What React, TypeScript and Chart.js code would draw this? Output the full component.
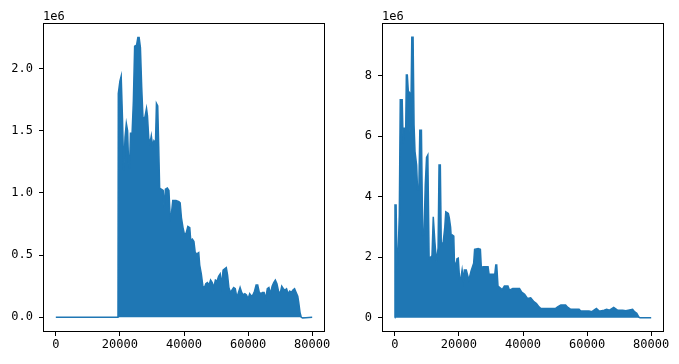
import React, { useEffect, useRef } from "react";
import { Chart, registerables } from "chart.js";

Chart.register(...registerables);

const X_TICKS = [0, 20000, 40000, 60000, 80000];
const X_TICK_LABELS = ["0", "20000", "40000", "60000", "80000"];
const LEFT_Y_TICKS = [0, 0.5, 1.0, 1.5, 2.0];
const LEFT_Y_LABELS = ["0.0", "0.5", "1.0", "1.5", "2.0"];
const RIGHT_Y_TICKS = [0, 2, 4, 6, 8];
const RIGHT_Y_LABELS = ["0", "2", "4", "6", "8"];
const OFFSET_LABEL = "1e6";

// [x, value in units of 1e6] — upper envelope of the left signal
const LEFT_SIGNAL: [number, number][] = [
  [0, 0], [19400, 0], [19500, 1.8], [20000, 1.9], [20400, 1.94], [20800, 1.6],
  [21200, 1.18], [21600, 1.45], [22000, 1.56], [22400, 1.5], [22700, 1.25], [23000, 1.2],
  [23300, 1.48], [23800, 1.48], [24200, 1.74], [24600, 2.18], [25200, 2.19], [25600, 2.25],
  [26000, 2.25], [26400, 2.17], [26800, 1.85], [27200, 1.6], [27800, 1.61], [28300, 1.68],
  [28600, 1.62], [29000, 1.44], [29400, 1.4], [29800, 1.46], [30200, 1.38], [30600, 1.42],
  [31100, 1.4], [31400, 1.72], [31800, 1.7], [32100, 1.38], [32400, 1.04], [33000, 1.03],
  [33500, 1.02], [33800, 0.88], [34200, 1.03], [34800, 1.04], [35300, 1.02], [35700, 0.8],
  [36100, 0.84], [36500, 0.94], [37500, 0.94], [38400, 0.93], [38800, 0.92], [39200, 0.8],
  [39700, 0.72], [40200, 0.66], [40700, 0.68], [41200, 0.73], [41800, 0.72], [42100, 0.62],
  [42600, 0.63], [43100, 0.61], [43500, 0.52], [44000, 0.51], [44600, 0.52], [44900, 0.42],
  [45400, 0.35], [45900, 0.25], [46400, 0.24], [46800, 0.27], [47300, 0.28], [47800, 0.26],
  [48300, 0.3], [48800, 0.28], [49300, 0.24], [49800, 0.3], [50300, 0.29], [50800, 0.33],
  [51300, 0.35], [51700, 0.26], [52200, 0.38], [52700, 0.39], [53200, 0.4], [53600, 0.34],
  [54000, 0.24], [54500, 0.2], [55000, 0.22], [55500, 0.24], [56000, 0.23], [56500, 0.16],
  [57000, 0.2], [57500, 0.24], [58000, 0.2], [58500, 0.18], [59000, 0.19], [59500, 0.18],
  [60000, 0.15], [60500, 0.19], [61000, 0.17], [61500, 0.18], [62000, 0.21], [62500, 0.26],
  [63000, 0.26], [63500, 0.2], [64000, 0.19], [64500, 0.2], [65000, 0.2], [65500, 0.15],
  [66000, 0.23], [66500, 0.24], [67000, 0.19], [67500, 0.25], [68000, 0.28], [68500, 0.3],
  [69000, 0.27], [69500, 0.21], [70000, 0.19], [70500, 0.25], [71000, 0.23], [71500, 0.22],
  [72000, 0.23], [72500, 0.19], [73000, 0.21], [73500, 0.2], [74000, 0.22], [74500, 0.23],
  [75000, 0.2], [75500, 0.17], [75800, 0.12], [76200, 0.04], [76600, 0], [77000, -0.005],
  [80000, 0],
];

// [x, value in units of 1e6] — upper envelope of the right signal
const RIGHT_SIGNAL: [number, number][] = [
  [0, 0], [50, 3.73], [400, 3.73], [700, 1.6], [1100, 2.35], [1400, 3.4],
  [1700, 7.2], [2300, 7.2], [2600, 5.77], [2900, 6.26], [3400, 6.26], [3600, 8.02],
  [3900, 8.02], [4200, 7.5], [4500, 7.45], [4700, 6.1], [5000, 6.7], [5300, 9.27],
  [5700, 9.27], [6000, 6.37], [6300, 5.49], [6800, 5.05], [7100, 4.22], [7500, 4.22],
  [7800, 6.2], [8300, 6.2], [8700, 2.73], [9100, 2.75], [9500, 4.39], [9900, 5.3],
  [10300, 5.38], [10700, 1.97], [11200, 2.0], [11600, 2.05], [12000, 3.34], [12500, 2.51],
  [13000, 1.85], [13500, 2.3], [13800, 5.05], [14200, 5.05], [14500, 2.4], [15100, 2.5],
  [15600, 3.0], [15900, 3.5], [16700, 3.45], [17000, 3.3], [17400, 3.0], [17700, 2.5],
  [18000, 2.73], [18400, 2.7], [18600, 1.85], [19000, 1.7], [19400, 1.95], [19800, 1.97],
  [20200, 1.3], [20600, 1.3], [21000, 1.58], [21400, 1.25], [21700, 1.58], [22300, 1.58],
  [23100, 1.25], [23800, 1.55], [24600, 1.8], [24900, 2.26], [26000, 2.29], [26700, 2.26],
  [27000, 1.65], [27500, 1.69], [29100, 1.69], [29400, 1.44], [31200, 1.44], [31500, 1.74],
  [31800, 1.74], [32200, 1.05], [33500, 0.93], [34200, 1.05], [35300, 1.05], [35800, 0.91],
  [36800, 0.97], [38900, 0.97], [39500, 0.86], [40500, 0.78], [41400, 0.64], [42400, 0.66],
  [43400, 0.53], [44200, 0.47], [45000, 0.36], [45500, 0.31], [50200, 0.31], [50800, 0.36],
  [51800, 0.42], [53300, 0.42], [53900, 0.35], [54900, 0.28], [56400, 0.28], [57500, 0.28],
  [58000, 0.22], [59600, 0.22], [60600, 0.22], [61500, 0.2], [62900, 0.31], [63800, 0.22],
  [65300, 0.25], [66100, 0.28], [67000, 0.25], [68300, 0.34], [69500, 0.25], [71100, 0.25],
  [72100, 0.23], [74200, 0.28], [74800, 0.2], [75500, 0.15], [76100, 0.03], [76500, 0],
  [80000, 0],
];

const LEFT_Y_RANGE = [-0.118, 2.367];
const RIGHT_Y_RANGE = [-0.47, 9.74];
const X_RANGE = [-4000, 84000];

const FONT = { family: "'DejaVu Sans Mono', monospace", size: 12 };
const LINE_COLOR = "#1f77b4";

const framePlugin = {
  id: "frame",
  afterDatasetsDraw(chart: any) {
    const { ctx, chartArea: a } = chart;
    ctx.save();
    ctx.strokeStyle = "#000";
    ctx.lineWidth = 1;
    ctx.strokeRect(a.left + 0.5, a.top + 0.5, a.right - a.left - 1, a.bottom - a.top - 1);
    ctx.fillStyle = "#000";
    ctx.font = `${FONT.size}px ${FONT.family}`;
    ctx.textAlign = "left";
    ctx.textBaseline = "alphabetic";
    ctx.fillText(OFFSET_LABEL, a.left, a.top - 3);
    ctx.restore();
  },
};

function makeConfig(
  signal: [number, number][],
  yTicks: number[],
  yLabels: string[],
  yRange: number[],
  yAxisWidth: number,
  rightPad: number
): any {
  return {
    type: "line",
    data: {
      datasets: [
        {
          data: signal.map(([x, y]) => ({ x, y })),
          borderColor: LINE_COLOR,
          backgroundColor: LINE_COLOR,
          borderWidth: 1.5,
          pointRadius: 0,
          tension: 0,
          fill: "origin",
        },
      ],
    },
    options: {
      animation: false,
      responsive: false,
      layout: { padding: { top: 23, right: rightPad, left: 0, bottom: 0 } },
      plugins: { legend: { display: false }, tooltip: { enabled: false } },
      scales: {
        x: {
          type: "linear",
          min: X_RANGE[0],
          max: X_RANGE[1],
          afterBuildTicks: (s: any) => {
            s.ticks = X_TICKS.map((v) => ({ value: v }));
          },
          afterFit: (s: any) => {
            s.height = 32;
          },
          ticks: {
            autoSkip: false,
            maxRotation: 0,
            color: "#000",
            font: FONT,
            padding: 2,
            callback: (v: number) => X_TICK_LABELS[X_TICKS.indexOf(v)],
          },
          grid: { drawOnChartArea: false, drawTicks: true, tickLength: 4, color: "#000", lineWidth: 1 },
          border: { display: false },
        },
        y: {
          type: "linear",
          min: yRange[0],
          max: yRange[1],
          afterBuildTicks: (s: any) => {
            s.ticks = yTicks.map((v) => ({ value: v }));
          },
          afterFit: (s: any) => {
            s.width = yAxisWidth;
          },
          ticks: {
            autoSkip: false,
            color: "#000",
            font: FONT,
            padding: 6,
            callback: (v: number) => yLabels[yTicks.indexOf(v)],
          },
          grid: { drawOnChartArea: false, drawTicks: true, tickLength: 4, color: "#000", lineWidth: 1 },
          border: { display: false },
        },
      },
    },
    plugins: [framePlugin],
  };
}

function Panel(props: { left: number; width: number; config: any }) {
  const ref = useRef<HTMLCanvasElement | null>(null);
  useEffect(() => {
    if (!ref.current) return;
    const chart = new Chart(ref.current, props.config);
    return () => chart.destroy();
  }, []);
  return (
    <canvas
      ref={ref}
      width={props.width}
      height={364}
      style={{ position: "absolute", left: props.left, top: 0, width: props.width, height: 364 }}
    />
  );
}

export default function App() {
  const leftConfig = makeConfig(LEFT_SIGNAL, LEFT_Y_TICKS, LEFT_Y_LABELS, LEFT_Y_RANGE, 43, 15);
  const rightConfig = makeConfig(RIGHT_SIGNAL, RIGHT_Y_TICKS, RIGHT_Y_LABELS, RIGHT_Y_RANGE, 42, 15);
  return (
    <div style={{ position: "absolute", left: 0, top: 0, width: 679, height: 364, background: "#fff" }}>
      <Panel left={0} width={340} config={leftConfig} />
      <Panel left={340} width={339} config={rightConfig} />
    </div>
  );
}
